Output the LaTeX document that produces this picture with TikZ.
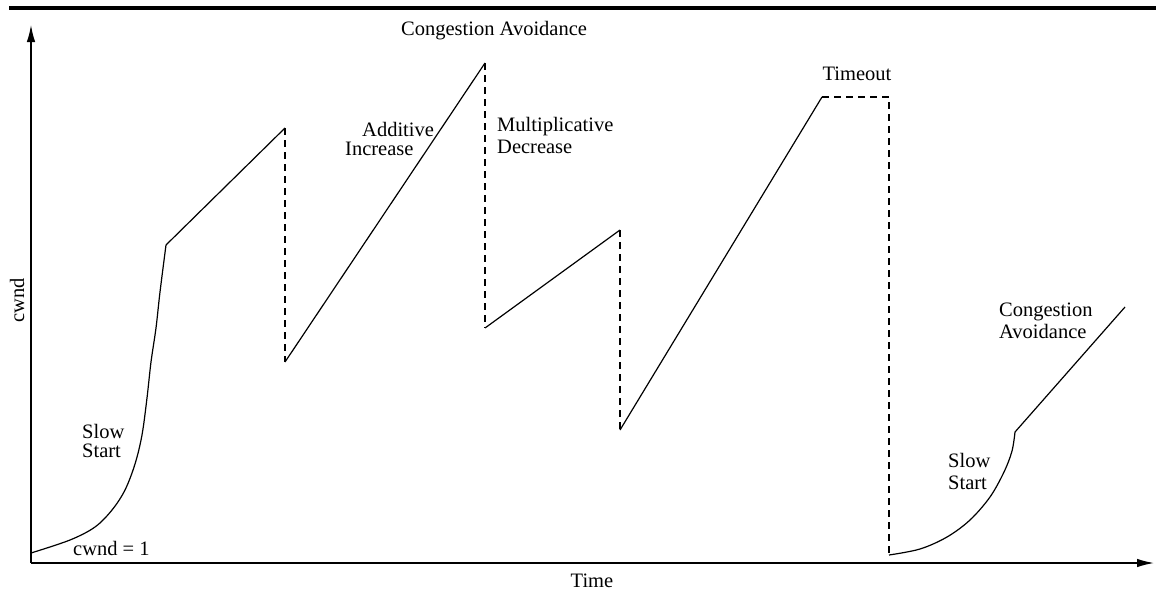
\documentclass[tikz,border=0pt]{standalone}
\usepackage{fontspec}
\setmainfont{Liberation Serif}
\usetikzlibrary{arrows.meta}
\begin{document}
\begin{tikzpicture}[x=1pt,y=-1pt,
  lbl/.style={font=\fontsize{20.5}{22}\selectfont, inner sep=0pt},
  axis/.style={line width=1.4pt, -{Latex[length=17pt,width=8.5pt]}},
  trace/.style={line width=1.2pt, line join=round},
  drop/.style={line width=1.2pt, dash pattern=on 7pt off 5pt}]
\useasboundingbox (0,0) rectangle (1156,592);
% rule across the top
\draw[line width=4pt] (9,8) -- (1156,8);
% axes
\coordinate (O) at (31,563);
\coordinate (ytop) at (31,25);
\coordinate (xend) at (1154,563);
\draw[axis] (O) -- (ytop);
\draw[axis] (O) -- (xend);
\node[lbl, rotate=90] (ylab) at (17,300) {cwnd};
\node[lbl] (xlab) at (592,581) {Time};
% corner points of the cwnd trace
\coordinate (s0) at (31,553);
\coordinate (c1) at (166,245);
\coordinate (p1) at (285,128);
\coordinate (q1) at (285,362);
\coordinate (p2) at (485,63);
\coordinate (q2) at (485,328);
\coordinate (p3) at (620,230);
\coordinate (q3) at (620,430);
\coordinate (p4) at (822,97);
\coordinate (t1) at (889,97);
\coordinate (q4) at (889,555);
\coordinate (c2) at (1015,432);
\coordinate (e)  at (1125,307);
% slow start, then linear growth
\draw[trace] plot[smooth, tension=0.55] coordinates {(s0) (70,540) (95,527) (112,510) (125,490) (135,464) (142,435) (147,398) (151,362) (156,328) (160,292) (c1)};
\draw[trace] (c1) -- (p1);
\draw[drop] (p1) -- (q1);
\draw[trace] (q1) -- (p2);
\draw[drop] (p2) -- (q2);
\draw[trace] (q2) -- (p3);
\draw[drop] (p3) -- (q3);
\draw[trace] (q3) -- (p4);
\draw[drop] (p4) -- (t1) -- (q4);
\draw[trace] plot[smooth, tension=0.55] coordinates {(q4) (920,549) (947,537) (970,520) (990,497) (1004,472) (1012,451) (c2)};
\draw[trace] (c2) -- (e);
% labels
\node[lbl, anchor=west] (ca) at (401,31) {Congestion Avoidance};
\node[lbl, anchor=base west] (ai1) at (362,136) {Additive};
\node[lbl, anchor=base west] (ai2) at (345,155) {Increase};
\node[lbl, align=left, anchor=west] (md) at (497,135) {Multiplicative\\Decrease};
\node[lbl] (to) at (857,74) {Timeout};
\node[lbl, align=left, anchor=west] (ss1) at (82,441) {Slow\\[-3pt]Start};
\node[lbl, anchor=west] (cw1) at (73,548) {cwnd = 1};
\node[lbl, align=left, anchor=west] (ss2) at (948,471) {Slow\\Start};
\node[lbl, align=left, anchor=west] (ca2) at (999,321) {Congestion\\Avoidance};
\end{tikzpicture}
\end{document}
